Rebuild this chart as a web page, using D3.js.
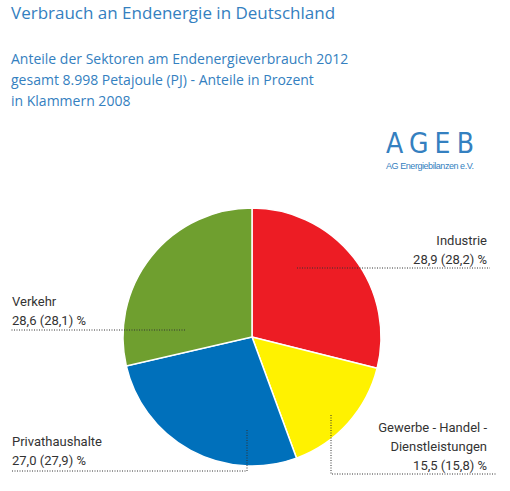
<!DOCTYPE html>
<html><head><meta charset="utf-8">
<script src="https://cdn.jsdelivr.net/npm/d3@7"></script>
<style>body{margin:0;background:#fff}</style>
</head><body>
<svg width="510" height="491"></svg>
<script>
// sectors, clockwise from top
let sectors = ["Industrie", "Gewerbe - Handel - Dienstleistungen", "Privathaushalte", "Verkehr"];
let shares2012 = [28.9, 15.5, 27.0, 28.6];
let shares2008 = ["28,2", "15,8", "27,9", "28,1"];
let colors = ["#ed1c24", "#fff200", "#0070bb", "#6f9f2f"];

let svg = d3.select("svg");
let blue = "#3480c0";
let fmt = v => v.toFixed(1).replace(".", ",");

svg.append("text").attr("x", 11).attr("y", 19).attr("fill", blue)
  .style("font", "17px 'Open Sans', sans-serif").text("Verbrauch an Endenergie in Deutschland");
["Anteile der Sektoren am Endenergieverbrauch 2012",
 "gesamt 8.998 Petajoule (PJ) - Anteile in Prozent",
 "in Klammern 2008"].forEach(function(t, i) {
  svg.append("text").attr("x", 11).attr("y", 64 + i * 21).attr("fill", blue)
    .style("font", "14px 'Open Sans', sans-serif").text(t);
});
svg.append("text").attr("x", 386).attr("y", 153).attr("fill", blue)
  .attr("textLength", 88).style("font", "28px 'Liberation Sans Narrow', 'DejaVu Sans Condensed', sans-serif").text("AGEB");
svg.append("text").attr("x", 386).attr("y", 169).attr("fill", blue)
  .attr("textLength", 88).style("font", "9px 'Liberation Sans Narrow', sans-serif").text("AG Energiebilanzen e.V.");

let cx = 252, cy = 337, r = 129;
let pie = d3.pie().sort(null).value(d => d)(shares2012);
let arc = d3.arc().innerRadius(0).outerRadius(r);
svg.append("g").attr("transform", `translate(${cx},${cy})`)
  .selectAll("path").data(pie).join("path")
  .attr("d", arc).attr("fill", (d, i) => colors[i])
  .attr("stroke", "#fff").attr("stroke-width", 1.5);

// leader lines
let leaders = [
  [[297, 268], [490, 268]],
  [[331, 415], [331, 474], [496, 474]],
  [[247, 430], [247, 471], [11, 471]],
  [[185, 330], [11, 330]]
];
leaders.forEach(function(pts) {
  svg.append("path").attr("d", d3.line()(pts)).attr("fill", "none")
    .attr("stroke", "#333").attr("stroke-width", 1).attr("stroke-dasharray", "1,1.5");
});

let font = "13px 'Liberation Sans Narrow', 'Roboto', sans-serif";
function label(x, y, anchor, lines) {
  lines.forEach(function(t, i) {
    svg.append("text").attr("x", x).attr("y", y + i * 19).attr("text-anchor", anchor)
      .attr("fill", "#333").style("font", font).text(t);
  });
}
let val = i => `${fmt(shares2012[i])} (${shares2008[i]}) %`;
label(487, 245, "end", ["Industrie", val(0)]);
label(487, 432, "end", ["Gewerbe - Handel -", "Dienstleistungen", val(1)]);
label(12, 446, "start", ["Privathaushalte", val(2)]);
label(12, 306, "start", ["Verkehr", val(3)]);
</script>
</body></html>
